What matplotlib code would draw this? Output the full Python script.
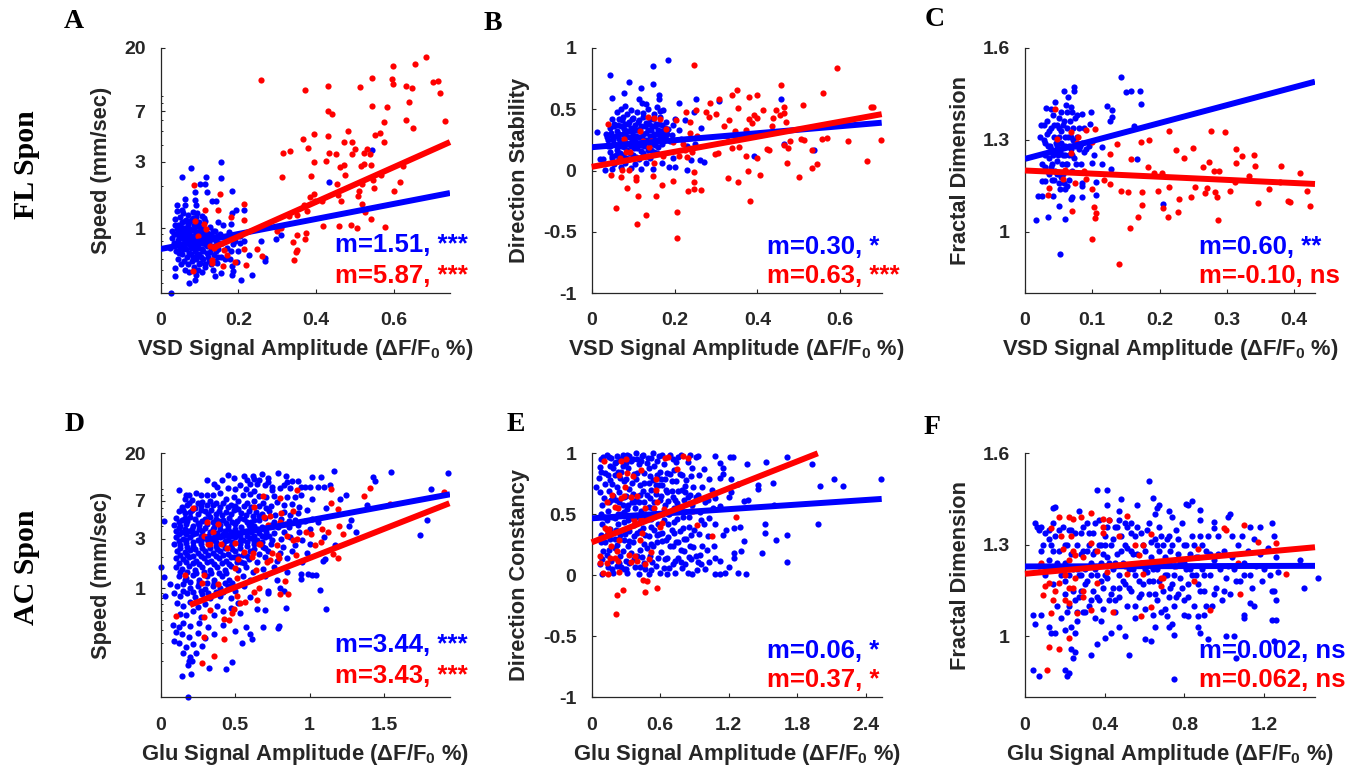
import matplotlib
matplotlib.use('Agg')
import matplotlib.pyplot as plt
import numpy as np
from matplotlib.ticker import FixedLocator, FixedFormatter, LogLocator, NullFormatter

plt.rcParams['font.family'] = ['Liberation Sans', 'DejaVu Sans']
plt.rcParams['mathtext.default'] = 'regular'

W, H = 1365, 771
DARK = '#262626'
BLUE = '#0000FF'
RED = '#FF0000'

# ---------- panel A ----------
a_red = [(.259,11.7),(.37,9.9),(.431,10.7),(.512,10.4),(.544,12.1),(.595,11.9),(.598,14.9),(.598,11.0),(.655,15.2),(.682,17.2),
 (.631,10.6),(.645,10.3),(.699,11.4),(.713,11.6),(.717,9.5),(.639,8.1),(.544,7.6),(.583,7.5),(.431,7.0),(.441,6.7),
 (.574,5.8),(.63,6.0),(.648,5.3),(.731,5.9),(.482,5.0),(.393,4.8),(.367,4.4),(.429,4.6),(.55,4.7),(.563,4.9),
 (.573,4.2),(.472,4.2),(.492,4.2),(.379,3.8),(.499,3.7),(.315,3.5),(.332,3.6),(.434,3.5),(.452,3.4),(.492,3.4),
 (.522,3.5),(.53,3.75),(.539,3.45),(.395,3.0),(.424,3.05),(.46,2.76),(.471,2.84),(.516,2.82),(.522,2.9),(.541,2.85),
 (.622,2.8),(.313,2.35),(.386,2.36),(.475,2.4),(.566,2.43),(.547,2.24),(.454,2.09),(.615,2.15),(.517,2.08),(.548,1.93),
 (.601,1.86),(.509,1.84),(.507,1.69),(.456,1.74),(.395,1.76),(.383,1.67),(.415,1.56),(.398,1.56),(.464,1.56),(.368,1.47),
 (.377,1.32),(.351,1.25),(.33,1.23),(.517,1.49),(.526,1.3),(.541,1.16),(.418,1.03),(.458,1.04),(.489,1.06),(.506,1.0),
 (.576,1.02),(.298,.957),(.31,1.0),(.351,.895),(.374,.915),(.371,.833),(.341,.79),(.351,.697),(.348,.67),(.342,.59),
 (.248,.71),(.26,.63),(.214,1.5),(.214,1.14),(.213,.70),(.182,1.2),(.163,.69),(.171,.64),(.192,.565),(.22,.54),
 (.161,.53),(.153,1.77),(.147,1.36),(.114,1.36),(.086,2.06),(.087,1.12),(.096,.88),(.111,1.07),(.117,.98),(.127,.74),
 (.137,.72),(.133,.59),(.131,.56),(.082,.49)]
a_blue = [(.079,2.73),(.055,2.32),(.117,2.32),(.154,2.98),(.156,2.3),(.1,2.08),(.113,2.08),(.087,1.82),(.119,1.82),(.183,1.84),
 (.063,1.63),(.087,1.6),(.041,1.47),(.063,1.47),(.09,1.46),(.133,1.57),(.143,1.58),(.194,1.34),(.183,1.28),(.215,1.36),
 (.041,1.33),(.054,1.35),(.093,1.28),(.111,1.18),(.147,1.1),(.16,1.05),(.18,1.07),(.037,1.17),(.037,1.05),(.257,.81),
 (.296,.83),(.309,.885),(.269,.61),(.267,.58),(.226,.64),(.235,.46),(.207,.42),(.183,.46),(.185,.49),(.154,.47),
 (.14,.45),(.073,.4),(.026,.34),(.037,.447),(.037,.51),(.089,.42),(.092,.46),(.434,2.16),(.544,3.68),(.204,.78),
 (.185,.76),(.18,.68),(.195,.57),(.183,.53),(.166,.6),
 (.03,.95),(.03,.85),(.024,.72),(.035,.78),(.04,.9),(.04,.68),(.045,1.05),(.045,.82),(.045,.6),(.05,1.2),
 (.05,.95),(.05,.72),(.052,.55),(.055,1.1),(.055,.85),(.055,.65),(.058,1.28),(.06,1.0),(.06,.78),(.06,.58),
 (.062,.5),(.065,1.15),(.065,.92),(.065,.7),(.068,.62),(.07,1.25),(.07,1.05),(.07,.85),(.07,.55),(.072,.48),
 (.075,.98),(.075,.75),(.078,1.15),(.078,.65),(.08,.88),(.08,.58),(.082,1.3),(.085,1.05),(.085,.78),(.085,.52),
 (.088,.95),(.088,.68),(.09,1.2),(.09,.6),(.092,.85),(.095,.75),(.095,.5),(.098,1.1),(.098,.65),(.1,.95),
 (.1,.56),(.103,.82),(.105,1.22),(.105,.7),(.105,.48),(.108,1.0),(.11,.88),(.11,.6),(.113,.76),(.115,1.12),
 (.115,.52),(.118,.66),(.12,.92),(.122,.82),(.125,.58),(.128,1.02),(.13,.72),(.133,.88),(.135,.5),(.138,.64),
 (.14,.95),(.142,.8),(.145,.56),(.148,.7),(.152,.9),(.155,.62),(.158,.78),(.165,.86),(.17,.72),(.175,.93),
 (.178,.6),(.19,.8),(.2,.68),(.205,.88),(.215,.8),
 (.033,.9),(.038,.75),(.042,.98),(.047,.66),(.048,.88),(.053,1.02),(.053,.77),(.058,.92),(.058,.7),(.062,1.12),
 (.063,.84),(.067,1.0),(.067,.78),(.072,.92),(.072,.66),(.074,1.1),(.077,.83),(.079,.72),(.082,.97),(.083,1.18),
 (.083,.62),(.087,.87),(.087,.73),(.09,1.03),(.091,.8),(.093,.64),(.094,.93),(.097,.72),(.098,.55),(.1,.85),
 (.102,1.02),(.103,.62),(.106,.92),(.107,.78),(.11,.68),(.112,.96),(.113,.55),(.116,.85),(.118,.74),(.121,.62),
 (.123,.9),(.125,.78),(.127,.67),(.129,.55),(.131,.83),(.134,.95),(.136,.74),(.139,.58),(.142,.68),(.144,.88),
 (.147,.62),(.15,.78)]
a_blue_fit = ([0, .744], [.705, 1.79])
a_red_fit = ([.134, .744], [.717, 4.18])

# ---------- panel B ----------
b_red = [(.246,.86),(.591,.84),(.351,.66),(.339,.62),(.458,.70),(.559,.63),(.398,.62),(.379,.60),(.308,.58),(.285,.55),
 (.673,.52),(.678,.52),(.51,.535),(.465,.515),(.444,.49),(.413,.49),(.352,.51),(.228,.48),(.252,.49),(.275,.48),
 (.301,.46),(.282,.44),(.464,.47),(.454,.455),(.438,.43),(.392,.45),(.379,.42),(.399,.43),(.387,.39),(.331,.41),
 (.468,.40),(.436,.36),(.32,.36),(.373,.33),(.347,.32),(.327,.285),(.347,.29),(.373,.28),(.254,.28),(.238,.31),
 (.22,.22),(.196,.23),(.137,.44),(.151,.43),(.164,.42),(.179,.34),(.203,.415),(.238,.40),(.04,.38),(.079,.26),
 (.117,.32),(.123,.24),(.143,.24),(.138,.19),(.339,.18),(.356,.19),(.423,.175),(.427,.165),(.464,.205),(.473,.18),
 (.478,.24),(.504,.26),(.512,.245),(.556,.257),(.569,.265),(.619,.24),(.699,.25),(.531,.167),(.665,.08),(.472,.06),
 (.398,.1),(.373,.12),(.297,.137),(.306,.146),(.224,.17),(.21,.115),(.231,.11),(.242,.148),(.5,-.05),(.532,.02),
 (.543,.05),(.407,-.035),(.378,-.007),(.328,-.06),(.353,-.097),(.248,-.015),(.248,-.09),(.248,-.15),(.264,-.16),(.232,-.17),
 (.197,-.085),(.17,-.12),(.156,-.21),(.381,-.25),(.206,-.34),(.206,-.55),(.13,-.36),(.11,-.44),(.058,-.31),(.086,-.14),
 (.111,-.21),(.106,-.055),(.106,-.08),(.149,-.045),(.071,-.05),(.047,-.035),(.091,.007),(.074,.007),(.151,.06),(.083,.15),
 (.093,.15),(.173,.12),(.069,.1)]
b_blue = [(.184,.90),(.148,.85),(.044,.78),(.09,.72),(.148,.71),(.12,.67),(.079,.63),(.162,.62),(.048,.59),(.115,.58),
 (.163,.58),(.252,.58),(.458,.58),(.211,.55),(.308,.57),(.121,.55),(.131,.545),(.157,.52),(.172,.49),(.165,.485),
 (.248,.48),(.2,.42),(.224,.41),(.265,.345),(.211,.333),(.196,.375),(.012,.315),(.391,.12),(.465,.22),(.536,.17),
 (.24,.083),(.262,.083),(.272,.067),(.23,.004),(.186,.026),(.2,.03),(.196,.1),(.149,.015),(.02,.094),(.028,.094),
 (.032,.007),(.05,.01),
 (.035,.3),(.04,.25),(.04,.2),(.045,.35),(.045,.15),(.05,.42),(.05,.28),(.05,.1),(.055,.36),(.055,.22),
 (.055,.05),(.06,.48),(.06,.32),(.06,.17),(.065,.42),(.065,.26),(.065,.09),(.07,.5),(.07,.36),(.07,.2),
 (.07,.03),(.075,.44),(.075,.3),(.075,.13),(.08,.53),(.08,.38),(.08,.23),(.08,.06),(.085,.46),(.085,.32),
 (.085,.17),(.09,.4),(.09,.27),(.09,.09),(.095,.49),(.095,.35),(.095,.2),(.095,.02),(.1,.43),(.1,.29),
 (.1,.13),(.105,.37),(.105,.24),(.105,.05),(.11,.48),(.11,.33),(.11,.18),(.115,.41),(.115,.27),(.115,.09),
 (.12,.36),(.12,.21),(.12,.01),(.125,.47),(.125,.3),(.125,.14),(.13,.39),(.13,.25),(.13,.06),(.135,.5),
 (.135,.33),(.135,.17),(.14,.42),(.14,.28),(.14,.1),(.145,.36),(.145,.22),(.15,.46),(.15,.3),(.15,.15),
 (.155,.38),(.155,.25),(.16,.33),(.16,.19),(.165,.44),(.165,.28),(.17,.37),(.17,.22),(.17,.06),(.175,.31),
 (.18,.4),(.18,.26),(.185,.34),(.19,.24),(.195,.29),(.215,.26),(.23,.2),(.25,.22),
 (.038,.27),(.043,.2),(.047,.31),(.048,.12),(.052,.25),(.053,.38),(.058,.28),(.058,.13),(.062,.2),(.063,.37),
 (.067,.3),(.068,.14),(.072,.25),(.073,.41),(.077,.19),(.078,.34),(.082,.28),(.083,.1),(.087,.38),(.087,.22),
 (.092,.32),(.093,.14),(.097,.26),(.098,.42),(.102,.18),(.103,.33),(.107,.28),(.108,.11),(.112,.4),(.113,.22),
 (.117,.34),(.118,.16),(.122,.27),(.123,.44),(.127,.2),(.128,.36),(.132,.31),(.133,.12),(.137,.24),(.138,.38),
 (.142,.33),(.143,.17),(.147,.27),(.148,.42),(.152,.21),(.153,.36),(.157,.3),(.158,.14),(.162,.25),(.163,.38),
 (.168,.32),(.172,.27),(.177,.35),(.182,.3)]
b_blue_fit = ([0, .70], [.19, .39])
b_red_fit = ([0, .70], [.03, .46])

# ---------- panel C ----------
c_red = [(.045,1.40),(.047,1.304),(.069,1.325),(.079,1.31),(.078,1.29),(.069,1.256),(.09,1.333),(.104,1.335),(.1,1.292),(.137,1.288),
 (.172,1.293),(.184,1.3),(.214,1.328),(.277,1.328),(.297,1.326),(.249,1.274),(.225,1.267),(.237,1.24),(.314,1.27),(.322,1.248),
 (.341,1.249),(.314,1.225),(.342,1.216),(.381,1.216),(.408,1.192),(.127,1.254),(.158,1.237),(.183,1.21),(.191,1.192),(.203,1.192),
 (.264,1.21),(.274,1.228),(.281,1.2),(.289,1.2),(.333,1.183),(.312,1.164),(.379,1.164),(.362,1.14),(.419,1.133),(.252,1.145),
 (.27,1.143),(.267,1.125),(.282,1.129),(.286,1.113),(.304,1.134),(.246,1.112),(.229,1.106),(.214,1.147),(.197,1.133),(.174,1.129),
 (.153,1.131),(.142,1.133),(.174,1.088),(.127,1.155),(.118,1.168),(.087,1.2),(.09,1.171),(.075,1.158),(.057,1.172),(.059,1.202),
 (.035,1.144),(.034,1.121),(.1,1.14),(.07,1.069),(.103,1.08),(.106,1.06),(.104,1.044),(.205,1.077),(.213,1.047),(.227,1.064),
 (.168,1.048),(.156,1.013),(.1,.976),(.139,.895),(.287,1.039),(.346,1.095),(.391,1.1),(.394,1.097),(.424,1.083)]
c_blue = [(.142,1.506),(.15,1.456),(.157,1.46),(.171,1.459),(.172,1.417),(.073,1.472),(.073,1.458),(.058,1.458),(.064,1.44),(.045,1.424),
 (.061,1.415),(.069,1.407),(.031,1.404),(.122,1.411),(.129,1.398),(.098,1.39),(.129,1.374),(.126,1.36),(.097,1.352),(.162,1.344),
 (.115,1.278),(.103,1.249),(.1,1.225),(.115,1.22),(.128,1.206),(.166,1.237),(.205,1.089),(.052,.927),(.017,1.038),(.034,1.047),
 (.059,1.041),(.051,1.083),(.02,1.117),(.025,1.118),(.041,1.116),(.068,1.106),(.07,1.112),(.084,1.115),(.105,1.119),(.105,1.164),
 (.022,1.31),(.024,1.35),(.025,1.22),(.025,1.165),(.028,1.35),(.028,1.3),(.03,1.25),(.03,1.21),(.03,1.165),(.033,1.36),
 (.033,1.32),(.034,1.28),(.035,1.24),(.036,1.19),(.038,1.4),(.038,1.34),(.039,1.27),(.04,1.22),(.04,1.17),(.042,1.38),
 (.043,1.31),(.044,1.26),(.045,1.2),(.047,1.35),(.048,1.28),(.048,1.23),(.05,1.37),(.05,1.31),(.05,1.16),(.052,1.26),
 (.052,1.14),(.054,1.39),(.054,1.33),(.055,1.22),(.056,1.28),(.057,1.19),(.058,1.36),(.06,1.31),(.06,1.25),(.06,1.14),
 (.062,1.39),(.063,1.34),(.063,1.22),(.065,1.28),(.065,1.17),(.067,1.36),(.068,1.31),(.07,1.39),(.07,1.25),(.07,1.2),
 (.072,1.34),(.074,1.28),(.075,1.37),(.076,1.22),(.078,1.38),(.08,1.27),(.08,1.34),(.083,1.22),(.085,1.385),(.085,1.29),
 (.087,1.34),(.088,1.26),(.09,1.27),(.084,1.16),(.085,1.15),(.095,1.28),
 (.03,1.29),(.035,1.33),(.037,1.28),(.041,1.25),(.043,1.35),(.046,1.29),(.049,1.25),(.051,1.34),(.053,1.29),(.056,1.25),
 (.057,1.35),(.059,1.28),(.061,1.22),(.064,1.31),(.066,1.25),(.068,1.27),(.071,1.3),(.073,1.24),(.077,1.31),(.082,1.28),
 (.047,1.19),(.053,1.18),(.058,1.16),(.063,1.15),(.033,1.2),(.038,1.21),(.043,1.17)]
c_blue_fit = ([0, .431], [1.238, 1.49])
c_red_fit = ([0, .431], [1.2, 1.156])

# ---------- panel D ----------
d_red = [(.22,5.95),(.313,4.4),(.383,4.13),(.351,3.46),(.291,3.19),(.315,2.67),(.329,2.65),(.403,2.69),(.445,2.45),(.501,2.71),
 (.557,2.22),(.521,1.9),(.499,1.58),(.51,1.25),(.383,1.09),(.291,1.33),(.275,1.13),(.166,1.34),(.101,.537),(.291,.53),
 (.331,.614),(.425,.51),(.461,.495),(.477,.575),(.494,.632),(.289,.337),(.423,.325),(.356,.223),(.28,.191),(.51,.85),
 (.532,.717),(.566,.744),(.649,.772),(.629,.922),(.66,1.0),(.64,1.49),(.66,2.65),(.667,2.7),(.626,6.1),(.689,7.76),
 (.799,7.45),(.691,4.87),(.736,5.0),(.723,4.07),(.81,5.32),(.799,4.33),(.832,4.13),(.89,5.56),(.85,3.19),(.89,2.92),
 (.917,2.96),(.783,2.63),(.785,2.11),(.792,1.97),(.745,2.2),(.734,1.86),(.716,1.81),(.622,2.2),(.611,2.02),(.908,2.11),
 (.913,8.79),(.975,3.46),(1.007,3.31),(1.036,2.59),(1.08,2.82),(1.085,3.76),(1.125,3.51),(1.143,9.05),(1.143,6.7),(1.192,5.85),
 (1.197,4.02),(1.226,3.31),(1.159,2.13),(1.192,1.97),(1.367,7.7),(1.405,9.26),(1.539,6.45),(1.902,8.48),(.837,1.18),(.855,.888),
 (.805,.882)]
d_blue = [(1.166,13.4),(1.55,13.3),(1.931,12.9),(1.427,11.8),(1.438,10.8),(1.02,11.7),(1.074,11.8),(1.814,9.0),(1.792,4.52),(1.74,3.24),
 (1.383,6.35),(1.315,3.49),(1.266,4.02),(1.277,4.55),(1.244,7.93),(1.204,7.25),(1.136,9.96),(1.114,5.9),(1.072,.964),(1.112,.627),
 (1.103,1.9),(1.092,1.85),(.991,1.37),(1.018,1.35),(1.043,1.34),(.94,1.23),(.946,1.37),(.843,.641),(.796,.433),(.79,.412),
 (.689,.427),(.611,.322),(.6,.36),(.573,.427),(.544,.295),(.499,.391),(.477,.196),(.438,.166),(.324,.172),(.204,.149),
 (.141,.142),(.186,.089),(.186,.183),(.208,.2),(.002,1.6),(.025,1.29),(.063,1.11),(.029,.837),(.02,4.45),
 (.45,12.3),(.49,11.5),(.56,12),(.62,12),(.68,12.6),(.79,13),(.84,12.2),(.31,11),(.41,11),(.58,11),
 (.63,11.4),(.66,11),(.72,10.5),(.85,10.5),(.88,10.8),(.92,10.9),(.72,11.6),(.7,10),(.75,9.4),(.53,10),
 (.6,10.2),(.65,10.2),(.36,10.1),(.38,9.5),(.12,8.8),(.45,9.3),(.5,9),(.57,9),(.63,8.6),(.75,8.8),
 (.8,9.3),(.83,10),(.87,9.2),(.94,9.5),(.97,9.4),(1.0,9.5),(1.06,9.5),(1.1,9.5),(.17,8),(.19,7.9),
 (.24,8.3),(.27,8),(.31,7.9),(.35,8),(.4,8.3),(.44,7.3),(.49,7.5),(.55,8),(.6,8.1),(.66,7.8),
 (.71,7.5),(.76,7.7),(.85,7.6),(.9,7.5),(.94,7.9),(.16,7.3),(.21,7.1),(.28,6.8),(.33,7),(.37,6.6),
 (.42,6.7),(.47,6.4),(.52,6.9),(.58,6.6),(.63,6.9),(.69,6.6),(.74,6.2),(.78,6.8),(.83,6.3),(.88,6.5),
 (.93,6.1),(.98,5.7),(1.02,7.3),(.14,6.1),(.18,6.3),(.23,6),(.27,6.2),(.12,5.5),(.16,5.3),(.2,5.4),
 (.25,5.2),(.3,5.5),(.34,5.7),(.39,5.6),(.44,5.4),(.49,5.7),(.54,5.3),(.59,5.6),(.64,5.4),(.68,5.2),
 (.73,5.5),(.77,5.1),(.83,5.4),(.87,5.1),(.92,5.3),(.1,4.8),(.14,4.6),(.18,4.5),(.23,4.7),(.28,4.5),
 (.33,4.9),(.37,4.7),(.42,4.6),(.46,4.8),(.51,4.5),(.56,4.7),(.61,4.4),(.66,4.6),(.7,4.8),(.76,4.4),
 (.81,4.7),(.86,4.5),(.9,4.6),(.97,4.5),(1.02,4.7),(1.06,4.4),(.09,4.1),(.13,4),(.17,4.2),(.22,4),
 (.26,4.1),(.31,4.2),(.36,3.9),(.4,4.1),(.45,4),(.5,4.2),(.54,3.9),(.59,4.1),(.63,4),(.68,3.9),
 (.74,4.1),(.79,3.9),(.86,3.9),(.92,4.1),(.1,3.6),(.14,3.5),(.19,3.6),(.24,3.4),(.28,3.6),(.33,3.5),
 (.38,3.4),(.43,3.6),(.47,3.5),(.52,3.4),(.57,3.6),(.61,3.5),(.66,3.4),(.71,3.5),(.76,3.4),(.83,3.5),
 (.93,3.5),(1.0,3.7),(.1,3.1),(.15,3),(.2,3.1),(.25,2.95),(.3,3.05),(.35,2.9),(.4,3.1),(.45,2.95),
 (.5,3.1),(.55,2.9),(.6,3.05),(.65,2.95),(.7,3.1),(.75,2.9),(.81,3),(.87,3.1),(.95,2.9),(1.1,3.1),
 (.09,2.7),(.13,2.6),(.17,2.75),(.22,2.55),(.27,2.65),(.37,2.55),(.42,2.7),(.47,2.55),(.53,2.7),(.58,2.55),
 (.63,2.65),(.69,2.5),(.74,2.65),(.82,2.5),(.9,2.6),(1.0,2.7),(1.17,2.6),(.11,2.3),(.16,2.25),(.2,2.35),
 (.25,2.2),(.3,2.3),(.35,2.2),(.4,2.3),(.45,2.15),(.5,2.3),(.55,2.1),(.6,2.3),(.66,2.15),(.72,2.3),
 (.8,2.2),(.88,2.3),(.98,2.2),(.1,1.95),(.15,1.9),(.19,2),(.24,1.85),(.29,1.95),(.34,1.85),(.39,1.95),
 (.44,1.85),(.49,2),(.54,1.8),(.59,1.9),(.65,1.8),(.7,2),(.78,1.85),(.85,1.95),(.95,1.8),(.1,1.6),
 (.14,1.55),(.19,1.65),(.23,1.5),(.28,1.6),(.33,1.5),(.38,1.6),(.43,1.5),(.47,1.65),(.52,1.5),(.57,1.6),
 (.62,1.45),(.69,1.55),(.76,1.6),(.85,1.45),(.12,1.3),(.17,1.25),(.22,1.35),(.26,1.2),(.31,1.3),(.36,1.2),
 (.41,1.3),(.46,1.2),(.55,1.3),(.6,1.2),(.7,1.3),(.78,1.2),(.11,1.05),(.15,1.1),(.2,1),(.25,1.05),
 (.3,.98),(.35,1.05),(.4,1),(.45,1.05),(.5,.95),(.56,1.05),(.72,.95),(.8,1.0),(.83,.95),(.09,.9),
 (.13,.85),(.18,.9),(.23,.82),(.28,.88),(.33,.8),(.4,.85),(.47,.8),(.6,.82),(.72,.9),(.11,.72),
 (.15,.68),(.2,.74),(.25,.66),(.3,.7),(.38,.68),(.47,.65),(.52,.72),(.65,.63),(.7,.62),(.13,.57),
 (.17,.55),(.22,.6),(.27,.53),(.36,.55),(.42,.6),(.53,.58),(.08,.44),(.12,.42),(.15,.46),(.2,.43),
 (.26,.46),(.32,.42),(.42,.44),(.1,.38),(.14,.36),(.19,.34),(.25,.37),(.3,.33),(.36,.36),(.09,.31),
 (.12,.3),(.17,.27),(.22,.29),(.28,.28),(.15,.24),(.2,.22),(.24,.24),(.19,.2),
 (.19,6.7),(.25,6.7),(.31,6.4),(.35,6.3),(.4,6.1),(.45,6.1),(.5,6.2),(.56,6.2),(.61,6.1),(.66,6.2),
 (.71,5.9),(.15,5.7),(.21,5.7),(.27,5.7),(.32,5.2),(.37,5.2),(.41,5.1),(.47,5.2),(.52,5.8),(.57,5.1),
 (.62,5),(.66,5),(.12,4.4),(.16,4.8),(.2,4.9),(.25,4.3),(.3,4.7),(.35,4.4),(.39,4.5),(.44,4.3),
 (.48,4.4),(.53,4.8),(.58,4.4),(.63,4.6),(.12,3.8),(.16,3.7),(.21,3.7),(.26,3.7),(.3,3.8),(.35,3.7),
 (.4,3.7),(.45,3.7),(.5,3.7),(.55,3.6),(.6,3.8),(.65,3.7),(.7,3.7),(.12,3.3),(.17,3.3),(.22,3.3),
 (.27,3.2),(.32,3.2),(.37,3.2),(.42,3.3),(.47,3.2),(.53,3.2),(.58,3.2),(.63,3.2),(.68,3.2),(.73,3.2),
 (.12,2.85),(.17,2.9),(.22,2.8),(.27,2.85),(.32,2.85),(.37,2.8),(.43,2.85),(.48,2.8),(.53,2.85),(.58,2.8),
 (.63,2.85),(.68,2.8),(.13,2.45),(.18,2.5),(.23,2.4),(.28,2.45),(.33,2.45),(.38,2.4),(.43,2.45),(.48,2.4),
 (.53,2.45),(.63,2.4),(.7,2.45),(.13,2.1),(.18,2.1),(.22,2.05),(.27,2.05),(.32,2.1),(.37,2.05),(.42,2.1),
 (.47,2),(.52,2.05),(.58,2.05),(.12,1.75),(.17,1.78),(.22,1.75),(.26,1.72),(.31,1.78),(.36,1.72),(.41,1.75),
 (.46,1.72),(.51,1.78),(.56,1.75),(.13,1.45),(.18,1.45),(.24,1.4),(.29,1.45),(.34,1.4),(.39,1.4),(.44,1.4),
 (.16,1.2),(.2,1.15),(.26,1.12),(.31,1.13),(.36,1.12),(.43,1.12),(.48,1.12),(.15,.95),(.22,.92),(.27,.95),
 (.32,.9),(.37,.92),(.42,.93)]
d_blue_fit = ([.3, 1.944], [2.95, 8.05])
d_red_fit = ([.197, 1.94], [.69, 6.6])

# ---------- panel E ----------
e_red = [(.11,.94),(.26,.94),(.3,.95),(.64,.96),(.67,.97),(.8,.98),(.84,.96),(.75,.87),(.43,.86),(.31,.84),
 (.24,.82),(.36,.81),(.56,.79),(.29,.72),(.56,.70),(.18,.66),(.28,.65),(.34,.64),(.4,.65),(.26,.63),
 (.13,.6),(.57,.6),(.2,.56),(.23,.55),(.47,.55),(.55,.55),(.63,.54),(.89,.53),(1.26,.48),(.36,.48),
 (.37,.45),(.43,.46),(.12,.39),(.13,.37),(.15,.38),(.62,.43),(.6,.4),(.92,.41),(.44,.35),(1.05,.32),
 (.24,.29),(.42,.29),(.17,.24),(.22,.2),(.52,.19),(.33,.17),(.07,.16),(.2,.14),(.23,.12),(.16,.14),
 (.38,.16),(.4,.12),(.34,.11),(.47,.09),(.5,.13),(.07,.1),(.13,.1),(.1,.02),(.14,.01),(.24,.03),
 (.45,-.04),(.48,-.05),(.57,-.1),(.47,-.14),(.27,-.12),(.22,-.16),(.21,-.32)]
e_blue = [(2.53,.79),(2.2,.73),(2.12,.79),(2.0,.73),(1.93,.91),(1.71,.97),(1.53,.93),(1.36,.91),(1.21,.97),(1.24,.97),
 (1.08,.98),(1.59,.76),(1.46,.74),(1.46,.71),(1.6,.58),(1.52,.42),(1.52,.35),(1.61,.29),(1.71,.33),(1.49,.18),
 (1.71,.11),(1.98,.42),(1.33,.28),(1.31,.2),(1.25,.18),(1.25,.14),(1.28,.02),(1.35,.01),(1.33,.61),(1.37,.62),
 (1.3,.4),(1.25,.39),(1.18,.37),(1.15,.33),(1.12,.12),(1.17,.02),(1.12,.01),(1.08,.01),(1.2,.07),(1.12,.92),
 (1.15,.88),(1.15,.83),(1.12,.8),(1.22,.79),(1.28,.75),(1.22,.68),(1.2,.64),(1.08,.63),(1.12,.57),(1.05,.7),
 (.04,.72),(.07,.89),(.08,.85),(.09,.58),(.09,.42),(.08,.27),(.07,.09),(.09,.01),(.13,.99),(.14,.82),
 (.15,.69),(.14,.53),(.13,.33),(.15,.21),(.14,.07),(.17,.96),(.19,.88),(.18,.75),(.2,.47),(.2,.3),
 (.19,.02),(.22,.98),(.23,.85),(.22,.72),(.24,.6),(.23,.42),(.22,.25),(.24,.1),(.27,.99),(.27,.9),
 (.28,.77),(.27,.58),(.28,.44),(.27,.2),(.28,.05),(.31,.99),(.32,.88),(.33,.71),(.31,.54),(.33,.36),
 (.32,.24),(.31,.02),(.36,.95),(.37,.83),(.36,.67),(.38,.55),(.37,.41),(.36,.27),(.38,.07),(.39,1.0),
 (.41,.91),(.42,.74),(.41,.6),(.4,.35),(.42,.21),(.41,.01),(.45,.99),(.46,.84),(.45,.69),(.47,.5),
 (.45,.39),(.46,.26),(.47,.05),(.49,.96),(.5,.88),(.5,.76),(.51,.63),(.49,.46),(.5,.32),(.51,.16),
 (.5,.01),(.54,1.0),(.55,.9),(.54,.78),(.56,.67),(.54,.49),(.55,.37),(.54,.24),(.56,.08),(.59,.98),
 (.6,.85),(.59,.74),(.61,.65),(.6,.5),(.59,.34),(.61,.19),(.6,.02),(.63,.91),(.64,.79),(.65,.7),
 (.64,.58),(.63,.45),(.65,.29),(.64,.13),(.66,.01),(.69,.99),(.69,.83),(.7,.69),(.68,.5),(.7,.37),
 (.69,.24),(.71,.09),(.74,.93),(.74,.77),(.73,.62),(.75,.46),(.74,.27),(.73,.02),(.78,.99),(.79,.82),
 (.79,.7),(.78,.56),(.8,.39),(.78,.21),(.79,.06),(.84,.93),(.83,.78),(.84,.64),(.85,.48),(.83,.3),
 (.85,.15),(.84,.02),(.88,.88),(.89,.72),(.88,.58),(.9,.37),(.89,.23),(.88,.01),(.93,.98),(.94,.82),
 (.93,.66),(.95,.52),(.94,.34),(.93,.11),(.98,.87),(.97,.72),(.99,.6),(.98,.42),(.97,.24),(.99,.05),
 (1.03,.79),(1.02,.62),(1.03,.47),(1.02,.32),(1.03,.11),(1.08,.42),(1.07,.24),(1.08,.14),(.96,.09),(.92,.04),
 (.1,.97),(.12,.75),(.11,.48),(.1,.2),(.16,.9),(.17,.62),(.16,.38),(.17,.12),(.21,.93),(.21,.62),
 (.21,.37),(.25,.8),(.26,.5),(.25,.33),(.25,.16),(.3,.92),(.3,.65),(.29,.34),(.3,.12),(.34,.94),
 (.35,.6),(.34,.47),(.34,.18),(.39,.79),(.39,.62),(.39,.48),(.4,.16),(.43,.94),(.43,.53),(.44,.15),
 (.48,.92),(.48,.66),(.48,.22),(.52,.7),(.53,.55),(.52,.4),(.53,.11),(.57,.82),(.58,.42),(.57,.27),
 (.62,.74),(.62,.28),(.67,.61),(.67,.42),(.66,.14),(.72,.86),(.72,.55),(.72,.35),(.76,.69),(.77,.36),
 (.76,.14),(.81,.62),(.81,.3),(.87,.53),(.86,.24),(.91,.64),(.91,.16),(.96,.45),(1.01,.21),(1.06,.55),
 (.08,.95),(.15,.97),(.2,.92),(.25,.95),(.29,.97),(.33,.98),(.4,.95),(.44,.98),(.52,.96),(.57,.94),
 (.62,.99),(.71,.95),(.76,.97),(.86,.99),(.91,.97),(.06,.8),(.12,.84),(.16,.78),(.2,.82),(.26,.85),
 (.3,.79),(.35,.76),(.4,.84),(.46,.76),(.51,.81),(.56,.74),(.61,.79),(.66,.84),(.7,.77),(.77,.83),
 (.82,.73),(.87,.81),(.07,.68),(.11,.63),(.15,.6),(.19,.65),(.24,.68),(.28,.64),(.32,.58),(.37,.6),
 (.42,.66),(.46,.6),(.5,.56),(.55,.6),(.6,.62),(.66,.68),(.71,.64),(.75,.59),(.82,.68),(.86,.66),
 (.08,.5),(.13,.45),(.18,.48),(.23,.5),(.28,.52),(.32,.45),(.37,.48),(.42,.44),(.46,.46),(.52,.46),
 (.57,.5),(.62,.5),(.67,.5),(.72,.44),(.8,.48),(.85,.4),(.08,.33),(.12,.27),(.16,.3),(.2,.22),
 (.24,.3),(.28,.29),(.33,.28),(.37,.32),(.42,.36),(.47,.33),(.52,.26),(.57,.33),(.62,.35),(.67,.31),
 (.71,.24),(.76,.27),(.81,.2),(.87,.33),(.09,.13),(.13,.17),(.18,.05),(.22,.08),(.26,.07),(.3,.05),
 (.33,.1),(.37,.13),(.42,.07),(.46,.1),(.52,.04),(.58,.14),(.63,.06),(.68,.06),(.73,.12),(.78,.11),
 (.82,.09),(.87,.13),(.95,.17)]
e_blue_fit = ([0, 2.54], [.467, .626])
e_red_fit = ([0, 1.98], [.27, 1.0])

# ---------- panel F ----------
f_red = [(.17,1.39),(.22,1.39),(.24,1.385),(.28,1.39),(.33,1.405),(.39,1.385),(.42,1.38),(.51,1.395),(.13,1.355),(.18,1.33),
 (.23,1.33),(.39,1.36),(.39,1.34),(.47,1.33),(.63,1.335),(1.0,1.355),(1.01,1.35),(1.1,1.365),(1.17,1.31),(1.26,1.305),
 (.33,1.305),(.19,1.285),(.24,1.28),(.25,1.265),(.29,1.26),(.36,1.28),(.55,1.3),(.59,1.3),(.57,1.265),(.87,1.285),
 (.08,1.24),(.22,1.25),(.07,1.23),(.5,1.23),(.76,1.23),(1.07,1.24),(.2,1.2),(.41,1.21),(.51,1.205),(.59,1.205),
 (1.31,1.205),(.25,1.19),(.68,1.19),(.69,1.19),(.85,1.18),(.12,1.175),(.17,1.175),(.36,1.175),(.1,1.165),(.22,1.16),
 (.24,1.16),(.29,1.15),(.15,1.15),(.09,1.135),(.29,1.13),(.68,1.165),(1.08,1.14),(.14,1.12),(.2,1.12),(.22,1.11),
 (.33,1.085),(.44,1.08),(.63,1.095),(.93,1.085),(.13,1.075),(.26,1.075),(.58,1.065),(.22,.995),(.12,.965),(.17,.96),
 (.11,.89)]
f_blue = [(.62,1.51),(.36,1.48),(.41,1.48),(.64,1.455),(.48,1.45),(.14,1.42),(.15,1.425),(.56,1.43),(.41,1.43),(.82,1.43),
 (.84,1.445),(.81,1.435),(.88,1.415),(.67,1.43),(.66,1.42),(.72,1.41),(1.03,1.4),(1.02,1.39),(.05,1.37),(.06,1.36),
 (.08,1.36),(.14,1.37),(.27,1.41),(.47,1.41),(.65,1.4),(.74,1.39),(.95,1.375),(1.24,1.37),(.88,1.38),(.07,1.35),
 (.1,1.34),(.12,1.35),(1.13,1.36),(1.18,1.36),(.95,1.355),(.67,1.36),(1.25,1.33),(.09,1.3),(.08,1.28),(1.47,1.19),
 (1.4,1.16),(1.38,1.25),(1.19,1.18),(1.14,1.16),(1.13,1.11),(1.15,1.1),(1.1,1.07),(1.1,1.06),(1.24,1.15),(1.25,1.15),
 (1.26,1.12),(1.24,1.055),(1.26,1.055),(1.25,.985),(1.05,1.0),(1.01,1.0),(.92,.99),(.88,1.01),(.87,1.03),(.87,1.065),
 (.82,1.065),(.63,.985),(.6,.99),(.75,1.005),(.72,1.03),(.74,1.04),(.71,1.065),(.65,1.03),(.5,1.0),(.47,1.03),
 (.43,1.01),(.4,.995),(.36,.975),(.33,.94),(.52,.94),(.25,1.01),(.23,1.03),(.2,1.02),(.15,1.01),(.12,1.03),
 (.05,1.04),(.04,1.07),(.08,1.07),(.13,1.01),(.23,.96),(.25,.95),(.24,.93),(.22,.88),(.2,.89),(.21,.87),
 (.04,.89),(.07,.87),(.75,.86),(1.06,.93),
 (.1,1.2),(.12,1.25),(.13,1.3),(.14,1.17),(.15,1.33),(.15,1.22),(.16,1.1),(.17,1.28),(.18,1.2),(.18,1.06),
 (.19,1.36),(.2,1.24),(.2,1.14),(.21,1.3),(.21,1.08),(.22,1.2),(.23,1.35),(.24,1.22),(.25,1.12),(.26,1.3),
 (.26,1.05),(.27,1.2),(.28,1.34),(.28,1.15),(.29,1.28),(.29,1.08),(.3,1.22),(.31,1.37),(.31,1.18),(.32,1.3),
 (.32,1.1),(.33,1.24),(.34,1.34),(.34,1.15),(.35,1.06),(.35,1.28),(.36,1.2),(.37,1.38),(.37,1.12),(.38,1.3),
 (.38,1.24),(.39,1.16),(.39,1.09),(.4,1.33),(.41,1.26),(.41,1.19),(.42,1.38),(.42,1.12),(.43,1.3),(.44,1.22),
 (.44,1.16),(.45,1.36),(.45,1.08),(.46,1.27),(.47,1.2),(.47,1.13),(.48,1.33),(.49,1.24),(.5,1.37),(.5,1.17),
 (.51,1.29),(.51,1.1),(.52,1.22),(.53,1.34),(.53,1.15),(.54,1.27),(.55,1.2),(.55,1.06),(.56,1.36),(.57,1.13),
 (.58,1.24),(.58,1.34),(.59,1.17),(.6,1.28),(.6,1.09),(.61,1.21),(.62,1.37),(.62,1.14),(.63,1.26),(.64,1.18),
 (.64,1.07),(.65,1.32),(.66,1.22),(.66,1.12),(.67,1.28),(.68,1.33),(.69,1.15),(.7,1.26),(.7,1.09),(.71,1.2),
 (.72,1.33),(.72,1.13),(.73,1.28),(.74,1.17),(.75,1.23),(.75,1.1),(.76,1.35),(.77,1.27),(.77,1.14),(.78,1.19),
 (.79,1.37),(.8,1.24),(.8,1.12),(.81,1.3),(.82,1.17),(.83,1.22),(.84,1.33),(.85,1.1),(.86,1.26),(.87,1.17),
 (.88,1.33),(.89,1.22),(.9,1.15),(.91,1.28),(.92,1.33),(.93,1.2),(.94,1.1),(.95,1.25),(.96,1.16),(.97,1.33),
 (.98,1.22),(.99,1.12),(1.0,1.28),(1.01,1.19),(1.03,1.14),(1.04,1.26),(1.05,1.22),(1.07,1.3),(1.08,1.18),(1.09,1.33),
 (1.1,1.24),(1.12,1.28),(1.13,1.2),(1.15,1.32),(1.16,1.23),(1.18,1.27),(1.2,1.22),(1.22,1.29),(1.23,1.2),(1.26,1.26),
 (1.27,1.21),
 (.12,1.32),(.14,1.28),(.16,1.24),(.17,1.35),(.19,1.22),(.2,1.3),(.22,1.35),(.23,1.27),(.24,1.15),(.25,1.34),
 (.26,1.22),(.27,1.13),(.28,1.27),(.29,1.36),(.3,1.17),(.31,1.28),(.32,1.34),(.33,1.2),(.34,1.27),(.35,1.37),
 (.36,1.13),(.37,1.3),(.38,1.18),(.39,1.27),(.4,1.2),(.41,1.36),(.42,1.24),(.43,1.14),(.44,1.32),(.45,1.24),
 (.46,1.36),(.47,1.16),(.48,1.28),(.49,1.18),(.5,1.3),(.51,1.36),(.52,1.16),(.53,1.28),(.54,1.22),(.55,1.33),
 (.56,1.27),(.57,1.18),(.58,1.14),(.59,1.3),(.6,1.22),(.61,1.35),(.62,1.18),(.63,1.31),(.64,1.22),(.65,1.14),
 (.66,1.3),(.67,1.18),(.68,1.24),(.69,1.3),(.7,1.2),(.71,1.32),(.72,1.24),(.73,1.16),(.74,1.3),(.75,1.2),
 (.76,1.13),(.77,1.32),(.78,1.24),(.79,1.16),(.8,1.3),(.81,1.22),(.82,1.13),(.83,1.27),(.84,1.2),(.85,1.3),
 (.86,1.2),(.87,1.26),(.88,1.15),(.89,1.3),(.9,1.2),(.91,1.1),(.93,1.27),(.95,1.14),(.97,1.27),(1.0,1.15),
 (1.02,1.23),(1.04,1.33),(1.06,1.18),(1.1,1.2),(.3,1.08),(.38,1.05),(.45,1.12),(.55,1.1),(.68,1.08),(.8,1.07),
 (.9,1.07),(.2,1.18),(.26,1.08),(.33,1.12),(.4,1.3),(.47,1.38),(.53,1.37),(.35,1.22),(.28,1.2),(.22,1.1)]
f_blue_fit = ([0, 1.455], [1.229, 1.231])
f_red_fit = ([0, 1.455], [1.205, 1.292])

x_vsd = 'VSD Signal Amplitude (ΔF/F$_0$ %)'
x_glu = 'Glu Signal Amplitude (ΔF/F$_0$ %)'
speed_ticks, speed_labels = [1, 3, 7, 20], ['1', '3', '7', '20']
dir_ticks, dir_labels = [-1, -.5, 0, .5, 1], ['-1', '-0.5', '0', '0.5', '1']
fd_ticks, fd_labels = [1, 1.3, 1.6], ['1', '1.3', '1.6']

# rect in pixels: left, right, top, bottom
panels = [
    ('A', (160.7, 450, 48, 293), a_blue, a_red, a_blue_fit, a_red_fit, (0, .744), (.339, 20), [0, .2, .4, .6], ['0', '0.2', '0.4', '0.6'],
     speed_ticks, speed_labels, x_vsd, 'Speed (mm/sec)', 'm=1.51, ***', 'm=5.87, ***', 252, 283, (64, 28), 101, True),
    ('B', (591.7, 881.7, 48, 293), b_blue, b_red, b_blue_fit, b_red_fit, (0, .70), (-1, 1), [0, .2, .4, .6], ['0', '0.2', '0.4', '0.6'],
     dir_ticks, dir_labels, x_vsd, 'Direction Stability', 'm=0.30, *', 'm=0.63, ***', 254, 283, (484, 30), 520, False),
    ('C', (1025, 1315, 48, 293), c_blue, c_red, c_blue_fit, c_red_fit, (0, .431), (.8, 1.6), [0, .1, .2, .3, .4], ['0', '0.1', '0.2', '0.3', '0.4'],
     fd_ticks, fd_labels, x_vsd, 'Fractal Dimension', 'm=0.60, **', 'm=-0.10, ns', 254, 283, (925, 26), 960, False),
    ('D', (160.7, 450, 453.3, 697.3), d_blue, d_red, d_blue_fit, d_red_fit, (0, 1.944), (.089, 20), [0, .5, 1, 1.5], ['0', '0.5', '1', '1.5'],
     speed_ticks, speed_labels, x_glu, 'Speed (mm/sec)', 'm=3.44, ***', 'm=3.43, ***', 652, 683, (65, 431), 101, True),
    ('E', (591.7, 881.7, 453.3, 697.3), e_blue, e_red, e_blue_fit, e_red_fit, (0, 2.54), (-1, 1), [0, .6, 1.2, 1.8, 2.4], ['0', '0.6', '1.2', '1.8', '2.4'],
     dir_ticks, dir_labels, x_glu, 'Direction Constancy', 'm=0.06, *', 'm=0.37, *', 658, 687, (507, 431), 520, False),
    ('F', (1025, 1315, 453.3, 697.3), f_blue, f_red, f_blue_fit, f_red_fit, (0, 1.455), (.8, 1.6), [0, .4, .8, 1.2], ['0', '0.4', '0.8', '1.2'],
     fd_ticks, fd_labels, x_glu, 'Fractal Dimension', 'm=0.002, ns', 'm=0.062, ns', 658, 687, (924, 434), 960, False),
]

fig = plt.figure(figsize=(W / 100, H / 100), dpi=100)

for (letter, rect, blue, red, bfit, rfit, xlim, ylim, xt, xl, yt, yl, xlabel, ylabel,
     txt_b, txt_r, base_b, base_r, letter_pos, ylab_x, logy) in panels:
    left, right, top, bottom = rect
    ax = fig.add_axes([left / W, 1 - bottom / H, (right - left) / W, (bottom - top) / H])
    if logy:
        ax.set_yscale('log')
    blue = np.array(blue)
    red = np.array(red)
    ax.scatter(blue[:, 0], blue[:, 1], s=20, color=BLUE, linewidths=0, clip_on=False, zorder=2)
    ax.scatter(red[:, 0], red[:, 1], s=20, color=RED, linewidths=0, clip_on=False, zorder=3)
    ax.plot(bfit[0], bfit[1], color=BLUE, lw=4.3, solid_capstyle='butt', zorder=4)
    ax.plot(rfit[0], rfit[1], color=RED, lw=4.3, solid_capstyle='butt', zorder=5, clip_on=False)
    ax.set_xlim(xlim)
    ax.set_ylim(ylim)
    ax.xaxis.set_major_locator(FixedLocator(xt))
    ax.xaxis.set_major_formatter(FixedFormatter(xl))
    ax.yaxis.set_major_locator(FixedLocator(yt))
    ax.yaxis.set_major_formatter(FixedFormatter(yl))
    if logy:
        ax.yaxis.set_minor_locator(LogLocator(base=10, subs=range(2, 10), numticks=12))
        ax.yaxis.set_minor_formatter(NullFormatter())
    ax.spines['top'].set_visible(False)
    ax.spines['right'].set_visible(False)
    for s in ['left', 'bottom']:
        ax.spines[s].set_color(DARK)
        ax.spines[s].set_linewidth(.9)
    ax.tick_params(which='major', direction='in', length=3, width=.8, color=DARK, labelcolor=DARK, labelsize=14)
    ax.tick_params(axis='x', which='major', pad=14)
    ax.tick_params(axis='y', which='major', pad=11)
    ax.tick_params(which='minor', direction='in', length=1.7, width=.7, color=DARK)
    for t in ax.get_xticklabels() + ax.get_yticklabels():
        t.set_fontweight('bold')
    ax.set_xlabel(xlabel, fontsize=15.8, fontweight='bold', color=DARK, va='baseline')
    xbase = 355 if top < 100 else 760
    ax.xaxis.set_label_coords(.5, (bottom - xbase) / (bottom - top))
    ax.set_ylabel(ylabel, fontsize=15.7, fontweight='bold', color=DARK, va='center')
    ax.yaxis.set_label_coords((ylab_x - left) / (right - left), .5)
    tx = {160.7: 335, 591.7: 766.7, 1025: 1199}[left]
    fig.text(tx / W, 1 - base_b / H, txt_b, color=BLUE, fontsize=18.5, fontweight='bold', ha='left', va='baseline', zorder=10)
    fig.text(tx / W, 1 - base_r / H, txt_r, color=RED, fontsize=18.5, fontweight='bold', ha='left', va='baseline', zorder=10)
    fig.text(letter_pos[0] / W, 1 - letter_pos[1] / H, letter, family='Liberation Serif', fontsize=20, fontweight='bold', color='black', ha='left', va='baseline')

fig.text(26 / W, 1 - 165 / H, 'FL Spon', family='Liberation Serif', fontsize=21.5, fontweight='bold', rotation=90, ha='center', va='center', color='black')
fig.text(26 / W, 1 - 567 / H, 'AC Spon', family='Liberation Serif', fontsize=21.5, fontweight='bold', rotation=90, ha='center', va='center', color='black')

plt.savefig('out.png', dpi=100)
plt.close()
